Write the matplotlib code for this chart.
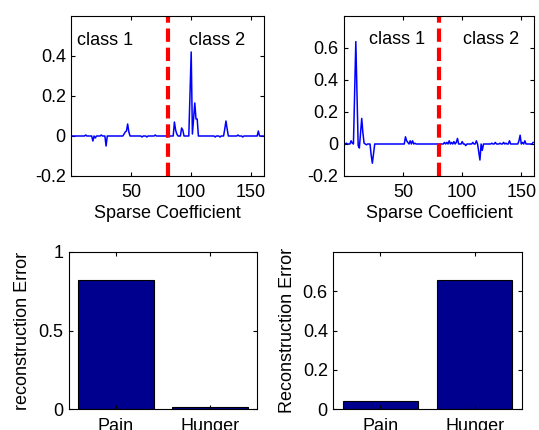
import numpy as np
import matplotlib
matplotlib.use("Agg")
import matplotlib.pyplot as plt

plt.rcParams['font.family'] = ['Liberation Sans', 'DejaVu Sans']
plt.rcParams['font.size'] = 13

# sparse coefficients (160 atoms, 80 per class) - nonzero entries
n_coef = 160
boundary = 80.5

idx_pain = [12, 18, 20, 25, 29, 44, 45, 46, 47, 48, 59, 63, 70, 80,
            86, 87, 88, 92, 93, 99, 100, 101, 102, 103, 104, 105,
            120, 124, 128, 129, 130, 139, 143, 156]
val_pain = [0.005, -0.025, -0.01, 0.005, -0.05, 0.01, 0.02, 0.025, 0.06, 0.02, -0.005, -0.005, 0.005, -0.005,
            0.07, 0.03, 0.01, 0.04, 0.03, 0.21, 0.42, 0.01, 0.085, 0.165, 0.085, 0.085,
            -0.005, -0.005, 0.035, 0.075, 0.035, 0.005, -0.005, 0.025]

idx_hunger = [2, 6, 7, 9, 10, 11, 12, 13, 14, 15, 16, 17, 19, 23, 24, 25,
              52, 53, 54, 56, 58, 60, 85, 87, 89, 91, 93, 95, 96, 100, 103,
              109, 112, 114, 115, 117, 125, 128, 132, 135, 137, 140, 148, 149, 151, 153, 160]
val_hunger = [0.005, 0.02, 0.005, 0.32, 0.64, 0.32, -0.01, -0.025, 0.07, 0.16, 0.07, 0.005, -0.005, -0.07, -0.12, -0.06,
              0.045, 0.02, 0.01, 0.02, 0.02, 0.005, 0.01, 0.01, 0.02, 0.01, 0.015, 0.01, 0.035, 0.015, -0.01,
              0.01, 0.02, -0.05, -0.1, -0.04, 0.005, 0.01, 0.005, 0.01, 0.005, 0.02, 0.02, 0.055, 0.01, 0.02, 0.01]

classes = ['Pain', 'Hunger']
err_pain = [0.82, 0.015]
err_hunger = [0.04, 0.655]


def coef_array(idx, vals):
    c = np.zeros(n_coef)
    c[np.array(idx) - 1] = vals
    return c


def matlab_axes(ax):
    ax.tick_params(direction='in', length=3, width=0.8, top=True, right=True)
    ax.tick_params(axis='y', pad=4)
    ax.tick_params(axis='x', pad=6)
    for s in ax.spines.values():
        s.set_linewidth(0.8)


def coef_plot(ax, coef, ylim, yticks, ylabels, txt_y, x1, x2):
    x = np.arange(1, n_coef + 1)
    ax.plot(x, coef, color='#0000ff', linewidth=1.1)
    ax.axvline(boundary, color='#ff0000', linewidth=3, dashes=(3.2, 1.4))
    ax.set_xlim(0, 161)
    ax.set_ylim(*ylim)
    ax.set_xticks([50, 100, 150])
    ax.set_yticks(yticks)
    ax.set_yticklabels(ylabels)
    ax.set_xlabel('Sparse Coefficient', labelpad=3)
    ax.text(x1, txt_y, 'class 1', va='center')
    ax.text(x2, txt_y, 'class 2', va='center')
    matlab_axes(ax)


def err_plot(ax, vals, ylim, yticks, ylabels, ylabel):
    ax.bar([1, 2], vals, width=0.8, color='#00008f', edgecolor='black', linewidth=0.8)
    ax.set_xlim(0.5, 2.5)
    ax.set_ylim(*ylim)
    ax.set_xticks([1, 2])
    ax.set_xticklabels(classes)
    ax.set_yticks(yticks)
    ax.set_yticklabels(ylabels)
    ax.set_ylabel(ylabel, labelpad=5)
    matlab_axes(ax)


fig = plt.figure(figsize=(5.39, 4.30), dpi=100)
ax1 = fig.add_axes([0.1323, 0.5907, 0.3581, 0.3721])
ax2 = fig.add_axes([0.6382, 0.5907, 0.3531, 0.3721])
ax3 = fig.add_axes([0.128, 0.0481, 0.3488, 0.3665])
ax4 = fig.add_axes([0.6184, 0.0481, 0.3495, 0.3665])

coef_plot(ax1, coef_array(idx_pain, val_pain), (-0.2, 0.6),
          [-0.2, 0, 0.2, 0.4], ['-0.2', '0', '0.2', '0.4'], 0.475, 5, 98)
coef_plot(ax2, coef_array(idx_hunger, val_hunger), (-0.2, 0.8),
          [-0.2, 0, 0.2, 0.4, 0.6], ['-0.2', '0', '0.2', '0.4', '0.6'], 0.65, 21, 101)

err_plot(ax3, err_pain, (0, 1), [0, 0.5, 1], ['0', '0.5', '1'], 'reconstruction Error')
err_plot(ax4, err_hunger, (0, 0.8), [0, 0.2, 0.4, 0.6], ['0', '0.2', '0.4', '0.6'], 'Reconstruction Error')

fig.savefig('out.png', dpi=100)
